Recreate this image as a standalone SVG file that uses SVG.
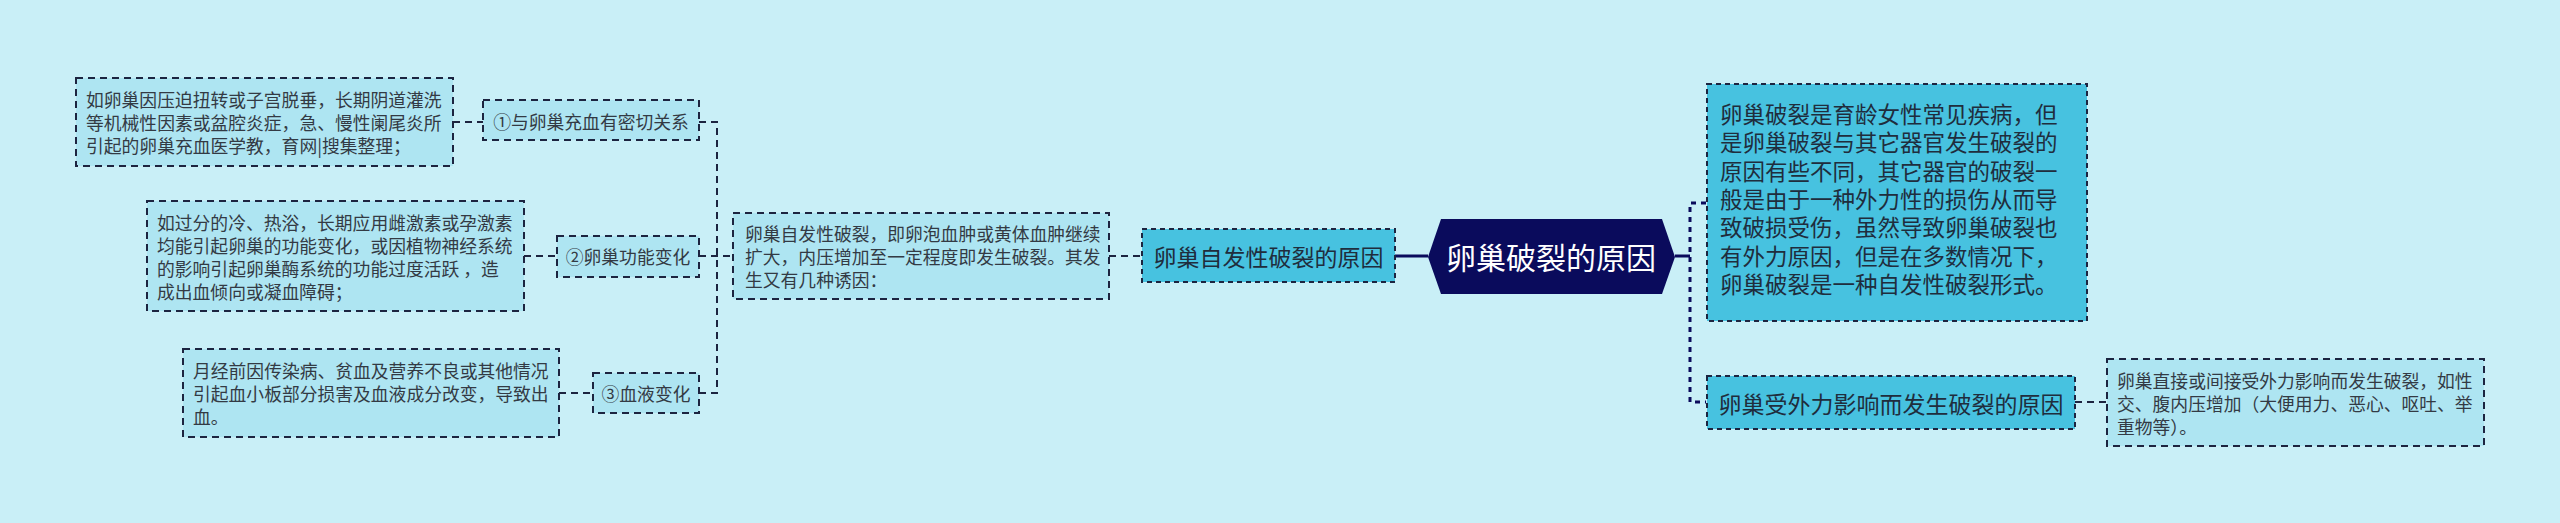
<svg xmlns="http://www.w3.org/2000/svg" width="2560" height="523" viewBox="0 0 2560 523">
<defs>
<style>
.bg{fill:#c9eff7}
.leaf{fill:#aee5f2;stroke:#1c2440;stroke-width:2;stroke-dasharray:7 5}
.sub{fill:#47c2e0;stroke:#1c2440;stroke-width:2;stroke-dasharray:5 4}
.t{font-family:"Noto Sans CJK SC","Noto Sans",sans-serif;fill:#333a44;dominant-baseline:central}
.s18{font-size:17.8px}
.s23{font-size:23px;fill:#1f2d3d}
.s22{font-size:22.5px;fill:#1f2d3d}
.root{fill:#0a0b5c}
.rt{font-family:"Noto Sans CJK SC","Noto Sans",sans-serif;font-size:30px;fill:#ffffff;dominant-baseline:central;text-anchor:middle}
.c{fill:none;stroke:#1c2440;stroke-width:2;stroke-dasharray:7 5}
.cs{fill:none;stroke:#0a0b5c;stroke-width:3}
.cd{fill:none;stroke:#0a0b5c;stroke-width:3;stroke-dasharray:5 5}
.mid{text-anchor:middle}
</style>
</defs>
<rect class="bg" x="0" y="0" width="2560" height="523"/>
<g id="connectors">
<path class="c" d="M453 122H483"/>
<path class="c" d="M524 256H557"/>
<path class="c" d="M559 393H593"/>
<path class="c" d="M699 122H717V393H699M699 256H733"/>
<path class="c" d="M1109 256H1142"/>
<path class="cs" d="M1395 256H1428"/>
<path class="cs" d="M1675 256H1690"/>
<path class="cd" d="M1706 203H1690V402H1706"/>
<path class="c" d="M2075 402H2107"/>
</g>
<g id="root">
<polygon class="root" points="1428,257 1441,219 1662,219 1675,257 1662,294 1441,294"/>
<text class="rt" x="1551" y="256">卵巢破裂的原因</text>
</g>
<g id="n-spont">
<rect class="sub" x="1142" y="229" width="253" height="53"/>
<text class="t s23 mid" x="1268.5" y="255.5">卵巢自发性破裂的原因</text>
</g>
<g id="n-spont-desc">
<rect class="leaf" x="733" y="213" width="376" height="86"/>
<text class="t s18" x="745" y="233">卵巢自发性破裂，即卵泡血肿或黄体血肿继续</text>
<text class="t s18" x="745" y="256">扩大，内压增加至一定程度即发生破裂。其发</text>
<text class="t s18" x="745" y="279">生又有几种诱因：</text>
</g>
<g id="n-1">
<rect class="leaf" x="483" y="100" width="216" height="40"/>
<text class="t s18 mid" x="591" y="121">①与卵巢充血有密切关系</text>
</g>
<g id="n-1-desc">
<rect class="leaf" x="76" y="78" width="377" height="88"/>
<text class="t s18" x="86" y="99">如卵巢因压迫扭转或子宫脱垂，长期阴道灌洗</text>
<text class="t s18" x="86" y="122">等机械性因素或盆腔炎症，急、慢性阑尾炎所</text>
<text class="t s18" x="86" y="145">引起的卵巢充血医学教，育网|搜集整理；</text>
</g>
<g id="n-2">
<rect class="leaf" x="557" y="236" width="142" height="41"/>
<text class="t s18 mid" x="628" y="256">②卵巢功能变化</text>
</g>
<g id="n-2-desc">
<rect class="leaf" x="147" y="201" width="377" height="110"/>
<text class="t s18" x="157" y="221.5">如过分的冷、热浴，长期应用雌激素或孕激素</text>
<text class="t s18" x="157" y="244.5">均能引起卵巢的功能变化，或因植物神经系统</text>
<text class="t s18" x="157" y="267.5">的影响引起卵巢酶系统的功能过度活跃 ，造</text>
<text class="t s18" x="157" y="290.5">成出血倾向或凝血障碍；</text>
</g>
<g id="n-3">
<rect class="leaf" x="593" y="373" width="106" height="40"/>
<text class="t s18 mid" x="646" y="393">③血液变化</text>
</g>
<g id="n-3-desc">
<rect class="leaf" x="183" y="349" width="376" height="88"/>
<text class="t s18" x="193" y="370">月经前因传染病、贫血及营养不良或其他情况</text>
<text class="t s18" x="193" y="393">引起血小板部分损害及血液成分改变，导致出</text>
<text class="t s18" x="193" y="416">血。</text>
</g>
<g id="n-intro">
<rect class="sub" x="1707" y="84" width="380" height="237"/>
<text class="t s22" x="1720" y="113">卵巢破裂是育龄女性常见疾病，但</text>
<text class="t s22" x="1720" y="141.3">是卵巢破裂与其它器官发生破裂的</text>
<text class="t s22" x="1720" y="169.6">原因有些不同，其它器官的破裂一</text>
<text class="t s22" x="1720" y="197.9">般是由于一种外力性的损伤从而导</text>
<text class="t s22" x="1720" y="226.2">致破损受伤，虽然导致卵巢破裂也</text>
<text class="t s22" x="1720" y="254.5">有外力原因，但是在多数情况下，</text>
<text class="t s22" x="1720" y="282.8">卵巢破裂是一种自发性破裂形式。</text>
</g>
<g id="n-external">
<rect class="sub" x="1707" y="376" width="368" height="53"/>
<text class="t s23 mid" x="1891" y="402.5">卵巢受外力影响而发生破裂的原因</text>
</g>
<g id="n-external-desc">
<rect class="leaf" x="2107" y="359" width="377" height="87"/>
<text class="t s18" x="2117" y="380">卵巢直接或间接受外力影响而发生破裂，如性</text>
<text class="t s18" x="2117" y="403">交、腹内压增加（大便用力、恶心、呕吐、举</text>
<text class="t s18" x="2117" y="426">重物等）。</text>
</g>
</svg>
